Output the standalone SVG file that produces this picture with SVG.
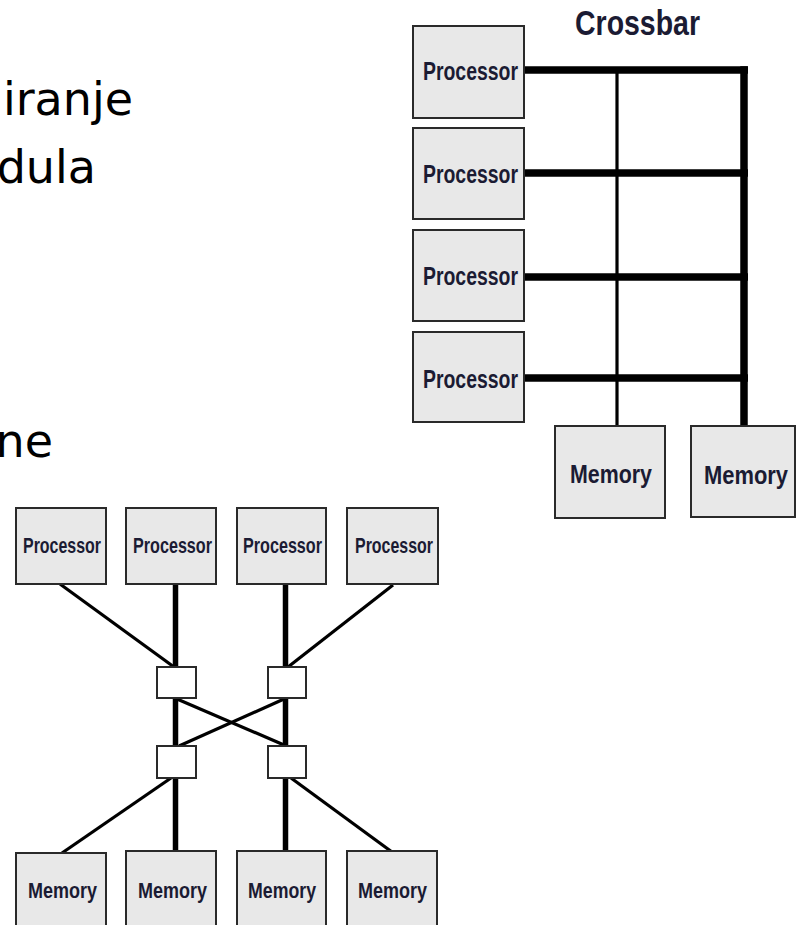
<svg xmlns="http://www.w3.org/2000/svg" width="796" height="925" viewBox="0 0 796 925">
  <style>
    .slide { font-family: "DejaVu Sans", "Liberation Sans", sans-serif; font-size: 46px; fill: #000; }
    .box { fill: #e8e8e8; stroke: #2a2a2a; stroke-width: 2; }
    .sw { fill: #fff; stroke: #2a2a2a; stroke-width: 2; }
    .lbl { font-family: "Liberation Sans", Arial, sans-serif; font-weight: bold; fill: #1b1b33; }
    .big { font-size: 26px; }
    .small { font-size: 22px; }
    .title { font-family: "Liberation Sans", Arial, sans-serif; font-weight: bold; font-size: 35px; fill: #1b1b33; }
    .thick { stroke: #000; stroke-width: 7.5; fill: none; }
    .mid { stroke: #000; stroke-width: 5.5; fill: none; }
    .thin { stroke: #000; stroke-width: 3.2; fill: none; }
  </style>

  <!-- slide text, cut at the left edge -->
  <g id="slide-text">
    <text class="slide" x="133" y="115" text-anchor="end">iranje</text>
    <text class="slide" x="96" y="183" text-anchor="end">dula</text>
    <text class="slide" x="53" y="457" text-anchor="end">ne</text>
  </g>

  <!-- crossbar: connectors -->
  <g id="crossbar-connectors">
    <line class="thick" x1="524" y1="70" x2="748" y2="70"/>
    <line class="thick" x1="524" y1="173" x2="748" y2="173"/>
    <line class="thick" x1="524" y1="277" x2="748" y2="277"/>
    <line class="thick" x1="524" y1="378" x2="748" y2="378"/>
    <line class="thick" x1="744" y1="66.25" x2="744" y2="427"/>
    <line class="thin" x1="617" y1="70" x2="617" y2="427"/>
  </g>

  <text class="title" x="575" y="35" textLength="125" lengthAdjust="spacingAndGlyphs">Crossbar</text>

  <g id="xb-proc-1">
    <rect class="box" x="413" y="26" width="111" height="92"/>
    <text class="lbl big" x="423" y="80" textLength="95" lengthAdjust="spacingAndGlyphs">Processor</text>
  </g>
  <g id="xb-proc-2">
    <rect class="box" x="413" y="128" width="111" height="91"/>
    <text class="lbl big" x="423" y="183" textLength="95" lengthAdjust="spacingAndGlyphs">Processor</text>
  </g>
  <g id="xb-proc-3">
    <rect class="box" x="413" y="230" width="111" height="91"/>
    <text class="lbl big" x="423" y="285" textLength="95" lengthAdjust="spacingAndGlyphs">Processor</text>
  </g>
  <g id="xb-proc-4">
    <rect class="box" x="413" y="332" width="111" height="90"/>
    <text class="lbl big" x="423" y="388" textLength="95" lengthAdjust="spacingAndGlyphs">Processor</text>
  </g>
  <g id="xb-mem-1">
    <rect class="box" x="555" y="426" width="110" height="92"/>
    <text class="lbl big" x="570" y="483" textLength="82" lengthAdjust="spacingAndGlyphs">Memory</text>
  </g>
  <g id="xb-mem-2">
    <rect class="box" x="691" y="426" width="104" height="91"/>
    <text class="lbl big" x="704" y="484" textLength="84" lengthAdjust="spacingAndGlyphs">Memory</text>
  </g>

  <!-- switched network: connectors -->
  <g id="net-connectors">
    <line class="thin" x1="60" y1="584" x2="174" y2="667"/>
    <line class="mid" x1="175.5" y1="584" x2="175.5" y2="667"/>
    <line class="mid" x1="285.5" y1="584" x2="285.5" y2="667"/>
    <line class="thin" x1="393" y1="585" x2="288" y2="667"/>
    <line class="mid" x1="175.5" y1="698" x2="175.5" y2="746"/>
    <line class="mid" x1="285.5" y1="698" x2="285.5" y2="746"/>
    <line class="thin" x1="177" y1="699" x2="284" y2="745"/>
    <line class="thin" x1="284" y1="699" x2="179" y2="746"/>
    <line class="mid" x1="175.5" y1="778" x2="175.5" y2="851"/>
    <line class="mid" x1="285.5" y1="778" x2="285.5" y2="853"/>
    <line class="thin" x1="171" y1="778" x2="62" y2="853"/>
    <line class="thin" x1="291" y1="778" x2="392" y2="852"/>
  </g>

  <g id="net-proc-1">
    <rect class="box" x="16" y="508" width="90" height="76"/>
    <text class="lbl small" x="23" y="553" textLength="78" lengthAdjust="spacingAndGlyphs">Processor</text>
  </g>
  <g id="net-proc-2">
    <rect class="box" x="126" y="508" width="90" height="76"/>
    <text class="lbl small" x="133" y="553" textLength="79" lengthAdjust="spacingAndGlyphs">Processor</text>
  </g>
  <g id="net-proc-3">
    <rect class="box" x="237" y="508" width="89" height="76"/>
    <text class="lbl small" x="243" y="553" textLength="79" lengthAdjust="spacingAndGlyphs">Processor</text>
  </g>
  <g id="net-proc-4">
    <rect class="box" x="347" y="508" width="91" height="76"/>
    <text class="lbl small" x="355" y="553" textLength="78" lengthAdjust="spacingAndGlyphs">Processor</text>
  </g>

  <g id="switch-1"><rect class="sw" x="157" y="667" width="39" height="31"/></g>
  <g id="switch-2"><rect class="sw" x="268" y="667" width="38" height="31"/></g>
  <g id="switch-3"><rect class="sw" x="157" y="746" width="39" height="32"/></g>
  <g id="switch-4"><rect class="sw" x="268" y="746" width="38" height="32"/></g>

  <g id="net-mem-1">
    <rect class="box" x="16" y="853" width="90" height="90"/>
    <text class="lbl small" x="28" y="898" textLength="69" lengthAdjust="spacingAndGlyphs">Memory</text>
  </g>
  <g id="net-mem-2">
    <rect class="box" x="126" y="851" width="90" height="92"/>
    <text class="lbl small" x="138" y="898" textLength="69" lengthAdjust="spacingAndGlyphs">Memory</text>
  </g>
  <g id="net-mem-3">
    <rect class="box" x="237" y="851" width="89" height="92"/>
    <text class="lbl small" x="248" y="898" textLength="68" lengthAdjust="spacingAndGlyphs">Memory</text>
  </g>
  <g id="net-mem-4">
    <rect class="box" x="347" y="851" width="90" height="92"/>
    <text class="lbl small" x="358" y="898" textLength="69" lengthAdjust="spacingAndGlyphs">Memory</text>
  </g>
</svg>
